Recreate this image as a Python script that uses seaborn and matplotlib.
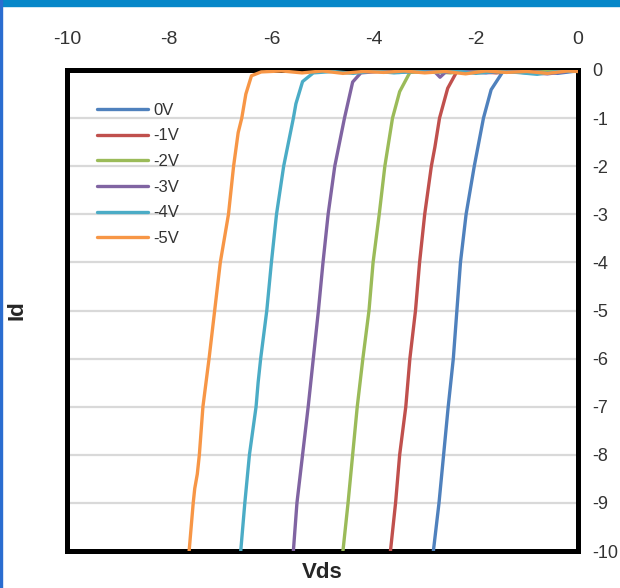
import numpy as np
import pandas as pd
import matplotlib
matplotlib.use("Agg")
import matplotlib.pyplot as plt
from matplotlib.patches import Rectangle
import seaborn as sns

# Gate voltages (legend order)
gate_labels = ["0V", "-1V", "-2V", "-3V", "-4V", "-5V"]
line_colors = ["#4F81BD", "#C0504D", "#9BBB59", "#8064A2", "#4BACC6", "#F79646"]

# 0V
vds_0v = [-2.83, -2.72, -2.63, -2.54, -2.44, -2.37, -2.30, -2.19, -2.03,
          -1.85, -1.70, -1.48, -1.30, -1.00, -0.70, -0.40, -0.10, 0.0]
id_0v = [-10, -9, -8, -7, -6, -5, -4, -3, -2,
         -1, -0.41, -0.05, -0.03, -0.06, -0.02, -0.07, -0.03, -0.02]

# -1V
vds_1v = [-3.67, -3.57, -3.49, -3.37, -3.29, -3.18, -3.10, -3.00, -2.87,
          -2.80, -2.71, -2.55, -2.38, -2.00, -1.60, -1.20, -0.80, -0.40, 0.0]
id_1v = [-10, -9, -8, -7, -6, -5, -4, -3, -2,
         -1.6, -1, -0.38, -0.05, -0.03, -0.06, -0.02, -0.05, -0.03, -0.02]

# -2V
vds_2v = [-4.60, -4.58, -4.50, -4.41, -4.32, -4.21, -4.09, -4.01, -3.89,
          -3.78, -3.63, -3.49, -3.29, -2.90, -2.50, -2.10, -1.70, -1.30,
          -0.90, -0.50, 0.0]
id_2v = [-10, -9.8, -9, -8, -7, -6, -5, -4, -3,
         -2, -1, -0.45, -0.05, -0.03, -0.06, -0.02, -0.05, -0.03,
         -0.06, -0.02, -0.03]

# -3V
vds_3v = [-5.57, -5.50, -5.39, -5.28, -5.18, -5.08, -4.99, -4.89, -4.76,
          -4.57, -4.41, -4.25, -3.90, -3.50, -3.10, -2.80, -2.70, -2.60,
          -2.20, -1.80, -1.40, -1.00, -0.60, -0.20, 0.0]
id_3v = [-10, -9, -8, -7, -6, -5, -4, -3, -2,
         -1, -0.25, -0.06, -0.03, -0.05, -0.02, -0.04, -0.15, -0.05,
         -0.03, -0.06, -0.02, -0.05, -0.08, -0.03, -0.02]

# -4V
vds_4v = [-6.60, -6.52, -6.43, -6.30, -6.26, -6.21, -6.09, -6.00, -5.90,
          -5.76, -5.57, -5.52, -5.39, -5.18, -4.80, -4.40, -4.00, -3.60,
          -3.20, -2.80, -2.40, -2.00, -1.60, -1.20, -0.80, -0.40, 0.0]
id_4v = [-10, -9, -8, -7, -6.5, -6, -5, -4, -3,
         -2, -1, -0.7, -0.24, -0.06, -0.03, -0.07, -0.02, -0.06,
         -0.03, -0.05, -0.02, -0.07, -0.03, -0.05, -0.09, -0.03, -0.02]

# -5V
vds_5v = [-7.61, -7.53, -7.50, -7.45, -7.41, -7.34, -7.22, -7.11, -7.00,
          -6.84, -6.74, -6.65, -6.58, -6.50, -6.39, -6.20, -5.80, -5.40,
          -5.00, -4.60, -4.20, -3.80, -3.40, -3.00, -2.60, -2.20, -1.80,
          -1.40, -1.00, -0.60, -0.20, 0.0]
id_5v = [-10, -9, -8.7, -8.4, -8, -7, -6, -5, -4,
         -3, -2, -1.3, -1, -0.5, -0.12, -0.04, -0.02, -0.06,
         -0.02, -0.07, -0.03, -0.05, -0.02, -0.06, -0.03, -0.08, -0.02,
         -0.05, -0.03, -0.07, -0.02, -0.03]

x_ticks = [-10, -8, -6, -4, -2, 0]
y_ticks = list(range(-10, 1))

series = [(vds_0v, id_0v), (vds_1v, id_1v), (vds_2v, id_2v),
          (vds_3v, id_3v), (vds_4v, id_4v), (vds_5v, id_5v)]
frames = []
for label, (xs, ys) in zip(gate_labels, series):
    frames.append(pd.DataFrame({"Vds": xs, "Id": ys, "Vg": label,
                                "order": np.arange(len(xs))}))
df = pd.concat(frames, ignore_index=True)

sns.set_theme(style="white")
plt.rcParams["font.family"] = ["Liberation Sans", "DejaVu Sans"]
plt.rcParams["axes.unicode_minus"] = False

fig = plt.figure(figsize=(6.2, 5.88), dpi=100)
ax = fig.add_axes([67 / 620, 1 - 551 / 588, 511 / 620, 481 / 588])

sns.lineplot(data=df, x="Vds", y="Id", hue="Vg", hue_order=gate_labels,
             palette=line_colors, sort=False, estimator=None, units="Vg",
             linewidth=2.4, ax=ax, zorder=3)

ax.set_xlim(-10, 0)
ax.set_ylim(-10, 0)
ax.set_xticks(x_ticks)
ax.set_yticks(y_ticks)
ax.xaxis.tick_top()
ax.yaxis.tick_right()
ax.tick_params(axis="x", length=0, pad=16, labelsize=14, colors="#333333")
ax.tick_params(axis="y", length=0, pad=10, labelsize=13, colors="#333333")

ax.yaxis.grid(True, color="#d9d9d9", linewidth=1.6)
ax.xaxis.grid(False)
ax.set_axisbelow(True)

for sp in ax.spines.values():
    sp.set_color("black")
    sp.set_linewidth(3.6)
    sp.set_zorder(2.5)

ax.set_xlabel("Vds", fontsize=16, fontweight="bold", color="#262626")
ax.xaxis.set_label_position("bottom")
ax.xaxis.set_label_coords(0.5, -0.022)
ax.set_ylabel("Id", fontsize=16, fontweight="bold", color="#262626")
ax.yaxis.set_label_position("left")
ax.yaxis.set_label_coords(-0.078, 0.5)

ax.legend(loc="upper left", bbox_to_anchor=(0.058, 0.932), frameon=False,
          fontsize=12, handlelength=3.1, handletextpad=0.3,
          labelspacing=0.64, borderaxespad=0, borderpad=0)
for txt in ax.get_legend().get_texts():
    txt.set_color("#333333")

# window frame accents
fig.patches.append(Rectangle((0, 1 - 6 / 588), 1, 6 / 588,
                             transform=fig.transFigure, color="#0787c9",
                             zorder=0))
fig.patches.append(Rectangle((0, 0), 2 / 620, 1,
                             transform=fig.transFigure, color="#2a6dd0",
                             zorder=0))

fig.savefig("out.png", dpi=100)
